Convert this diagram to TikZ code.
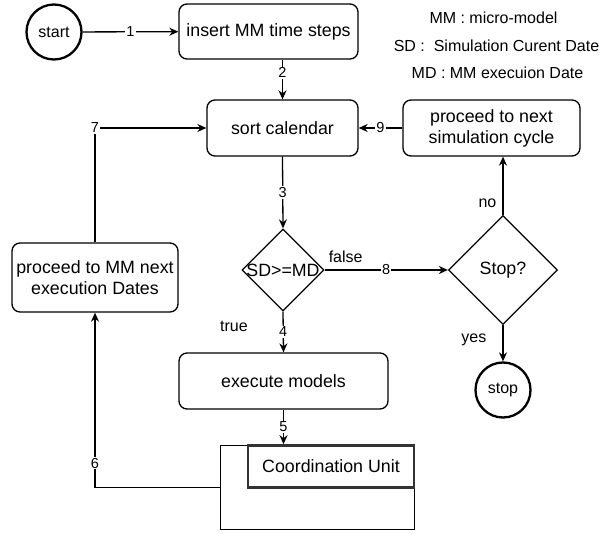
\documentclass[tikz,border=0pt]{standalone}
\usepackage{fontspec}
\setmainfont{Liberation Sans}
\usetikzlibrary{shapes.geometric,arrows.meta}
\tikzset{
  mainfont/.style={font=\fontsize{17.8}{21}\selectfont},
  smallfont/.style={font=\fontsize{16}{19}\selectfont},
  digitfont/.style={font=\fontsize{14.5}{17}\selectfont},
  procbox/.style={draw, rounded corners=8pt, line width=1.3pt, mainfont, align=center, inner sep=0pt},
  termcirc/.style={draw, circle, line width=2.3pt, smallfont, inner sep=0pt, minimum size=55pt},
  decision/.style={draw, diamond, line width=1.3pt, mainfont, inner sep=0pt, aspect=1},
  arr/.style={line width=1.3pt, -{Stealth[length=9pt,width=8pt]}},
  plain/.style={line width=1.3pt},
  num/.style={fill=white, inner sep=1pt, digitfont},
  lbl/.style={inner sep=0pt, smallfont},
}
\begin{document}
\begin{tikzpicture}[x=1pt,y=-1pt]
\useasboundingbox (0,0) rectangle (605,534);

% nodes
\node[termcirc] (start) at (54,32) {start};
\node[procbox, minimum width=179pt, minimum height=55pt] (insert) at (268.5,31.5) {insert MM time steps};
\node[procbox, minimum width=151pt, minimum height=56pt] (sort) at (282.5,128) {sort calendar};
\node[procbox, minimum width=177pt, minimum height=56pt] (proc) at (491.5,128) {proceed to next\\simulation cycle};
\node[decision, minimum width=82pt, minimum height=82pt, label={[mainfont, inner sep=0pt]center:SD>=MD}] (cond) at (283,270) {};
\node[decision, minimum width=109pt, minimum height=109pt] (stopq) at (503,270) {Stop?};
\node[procbox, minimum width=166pt, minimum height=69pt] (procmm) at (95,277.5) {proceed to MM next\\execution Dates};
\node[procbox, minimum width=209pt, minimum height=56pt] (exec) at (283.5,381) {execute models};
\node[draw, line width=1.1pt, minimum width=194pt, minimum height=84pt, inner sep=0pt] (outer) at (317.5,487.5) {};
\node[draw=black!80, line width=2.6pt, fill=white, minimum width=166pt, minimum height=42pt, inner sep=0pt, mainfont] (cu) at (331,466.5) {Coordination Unit};
\node[termcirc] (stopc) at (503,390) {stop};

% legend
\node[smallfont] (l1) at (493.5,18) {MM : micro-model};
\node[smallfont] (l2) at (496.5,46) {SD :\ \ Simulation Curent Date};
\node[smallfont] (l3) at (497.5,73) {MD : MM execuion Date};

% connectors
\draw[arr] (start) -- node[num] {1} (insert);
\draw[arr] (sort.north |- insert.south) -- node[num, pos=0.33] {2} (sort.north);
\draw[arr] (sort.south) -- node[num] {3} (cond.north);
\draw[arr] (cond.south) -- node[num] {4}
  node[lbl, pos=0, xshift=-49pt, yshift=-15pt] {true} (exec.north);
\draw[arr] (exec.south) -- node[num] {5} (exec.south |- cu.north);
\draw[arr] (outer.west) -| node[num, pos=0.57] {6} (procmm.south);
\draw[arr] (procmm.north) |- node[num, pos=0.5] {7} (sort.west);
\draw[arr] (cond.east) -- node[num] {8}
  node[lbl, pos=0, xshift=21pt, yshift=13pt] {false} (stopq.west);
\draw[arr] (proc.west) -- node[num] {9} (sort.east);
\draw[arr] (stopq.north) -- node[lbl, pos=0.2, left=6pt] {no} (stopq.north |- proc.south);
\draw[arr] (stopq.south) -- node[lbl, pos=0.4, left=16pt] {yes} (stopc.north);
\end{tikzpicture}
\end{document}
